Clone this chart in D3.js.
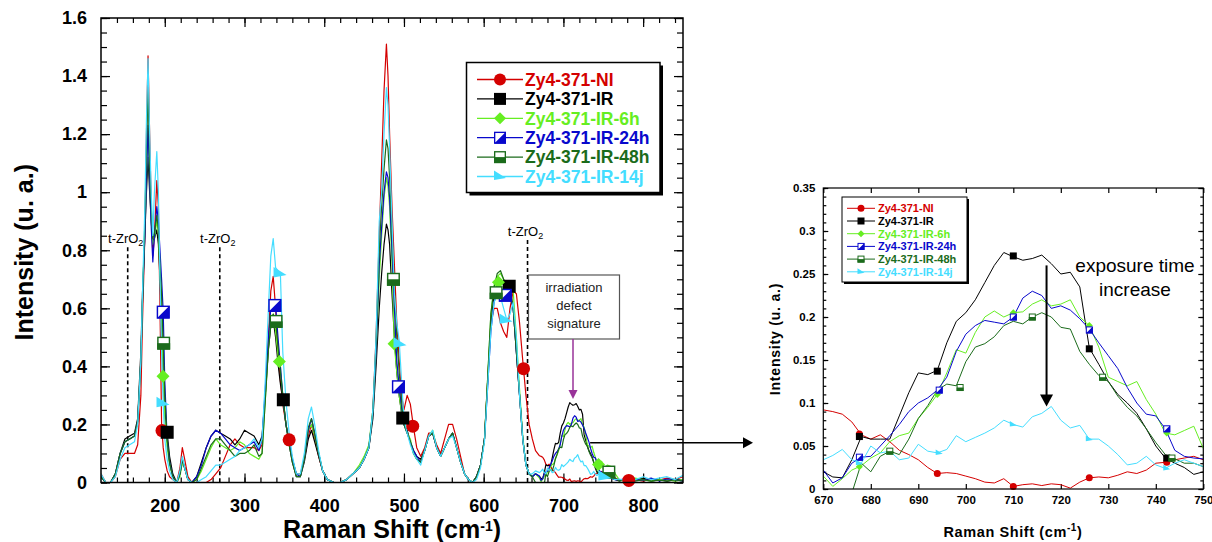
<!DOCTYPE html>
<html><head><meta charset="utf-8">
<script src="https://cdn.jsdelivr.net/npm/d3@7/dist/d3.min.js"></script>
<style>
html,body{margin:0;padding:0;background:#fff;}
svg{display:block;}
</style></head><body>
<svg id="chart" width="1212" height="542"></svg>
<script>
const FONT = "Arial, 'Liberation Sans', Helvetica, sans-serif";

const seriesNames = ["Zy4-371-NI","Zy4-371-IR","Zy4-371-IR-6h","Zy4-371-IR-24h","Zy4-371-IR-48h","Zy4-371-IR-14j"];
const seriesColors = ["#d40000","#000000","#66ee22","#0808cc","#1b6b1b","#44ddff"];
const seriesMarkers = ["circle","square","diamond","halfsq","botsq","tri"];

const xTickValues = [200,300,400,500,600,700,800];
const xTickLabels = ["200","300","400","500","600","700","800"];
const yTickValues = [0,0.2,0.4,0.6,0.8,1,1.2,1.4,1.6];
const yTickLabels = ["0","0.2","0.4","0.6","0.8","1","1.2","1.4","1.6"];
const insetXTickValues = [670,680,690,700,710,720,730,740,750];
const insetXTickLabels = ["670","680","690","700","710","720","730","740","750"];
const insetYTickValues = [0,0.05,0.1,0.15,0.2,0.25,0.3,0.35];
const insetYTickLabels = ["0","0.05","0.1","0.15","0.2","0.25","0.3","0.35"];

// Raman shift grid of main chart (outside the 670-750 window, which comes from the inset arrays)
const shiftMain = [
 120,126,132,138,144,150,156,162,166,170,
 172,175,177,179,181,183,185,187,190,192,
 194,196,198,200,203,206,210,215,219,222,
 225,229,234,240,246,252,258,264,270,276,
 282,288,294,300,306,312,318,322,326,330,
 333,336,339,342,345,348,352,356,360,365,
 370,375,380,384,388,393,398,404,412,420,
 428,436,444,450,456,461,465,469,472,475,
 478,480,482,485,488,491,494,497,500,504,
 508,512,516,521,526,531,536,541,546,551,
 556,561,566,571,576,581,586,591,596,601,
 605,609,613,617,621,625,629,633,637,641,
 645,649,653,657,661,665,
 755,760,765,770,775,780,790,800,810,820,830,840,850];

const mainNI = [
 0.03,0.0,0.0,0.02,0.08,0.1,0.1,0.1,0.13,0.3,
 0.55,0.85,1.2,1.47,1.2,0.95,0.78,0.85,1.04,0.95,
 0.6,0.2,0.12,0.08,0.04,0.02,0.01,0.0,0.05,0.12,
 0.08,0.02,0.0,0.0,0.0,0.0,0.01,0.03,0.05,0.09,
 0.13,0.15,0.13,0.12,0.12,0.12,0.11,0.13,0.3,0.5,
 0.66,0.71,0.6,0.45,0.35,0.27,0.2,0.147,0.08,0.03,
 0.03,0.08,0.16,0.2,0.15,0.09,0.04,0.01,0.0,0.0,
 0.01,0.03,0.05,0.08,0.12,0.25,0.5,0.85,1.1,1.35,
 1.51,1.4,1.2,0.95,0.75,0.55,0.42,0.3,0.25,0.3,
 0.27,0.19,0.12,0.09,0.12,0.17,0.17,0.13,0.1,0.15,
 0.2,0.2,0.15,0.09,0.03,0.01,0.0,0.02,0.06,0.15,
 0.35,0.55,0.6,0.6,0.55,0.52,0.5,0.6,0.66,0.65,
 0.55,0.42,0.3,0.2,0.15,0.11,
 0.03,0.02,0.015,0.01,0.008,0.007,0.01,0.005,0.012,0.008,0.015,0.01,0.02];

const mainIR = [
 0.02,0.0,0.0,0.03,0.1,0.15,0.16,0.17,0.22,0.45,
 0.65,0.85,1.0,1.12,1.0,0.9,0.83,0.84,0.87,0.82,
 0.7,0.55,0.36,0.25,0.17,0.09,0.03,0.0,0.03,0.07,
 0.05,0.01,0.0,0.02,0.07,0.12,0.16,0.18,0.17,0.16,
 0.15,0.13,0.15,0.18,0.17,0.16,0.13,0.16,0.3,0.46,
 0.54,0.56,0.5,0.41,0.34,0.29,0.2,0.13,0.07,0.02,
 0.02,0.07,0.15,0.18,0.14,0.09,0.04,0.01,0.0,0.0,
 0.01,0.03,0.05,0.08,0.12,0.22,0.4,0.6,0.72,0.82,
 0.89,0.87,0.82,0.65,0.5,0.38,0.3,0.24,0.2,0.18,
 0.14,0.11,0.09,0.08,0.11,0.16,0.17,0.12,0.09,0.12,
 0.15,0.17,0.12,0.07,0.03,0.01,0.0,0.02,0.06,0.15,
 0.35,0.55,0.65,0.68,0.7,0.68,0.68,0.67,0.6,0.45,
 0.3,0.15,0.06,0.03,0.02,0.03,
 0.02,0.015,0.01,0.005,0.01,0.005,0.01,0.015,0.005,0.01,0.005,0.01,0.008];

const mainIR6h = [
 0.02,0.0,0.0,0.03,0.1,0.14,0.15,0.16,0.21,0.42,
 0.62,0.88,1.05,1.22,1.05,0.9,0.82,0.84,0.9,0.86,
 0.72,0.58,0.37,0.22,0.12,0.06,0.02,0.0,0.02,0.07,
 0.05,0.01,0.0,0.01,0.04,0.08,0.12,0.15,0.13,0.12,
 0.11,0.12,0.14,0.13,0.1,0.09,0.08,0.1,0.28,0.47,
 0.56,0.58,0.52,0.44,0.4,0.3,0.2,0.14,0.08,0.03,
 0.02,0.08,0.18,0.2,0.16,0.1,0.04,0.01,0.0,0.0,
 0.01,0.03,0.06,0.09,0.13,0.25,0.45,0.7,0.85,0.98,
 1.05,1.02,0.95,0.75,0.47,0.38,0.3,0.24,0.2,0.17,
 0.15,0.1,0.08,0.07,0.11,0.16,0.18,0.12,0.09,0.12,
 0.15,0.17,0.12,0.07,0.03,0.01,0.0,0.02,0.06,0.15,
 0.36,0.58,0.68,0.71,0.72,0.7,0.68,0.68,0.66,0.5,
 0.32,0.16,0.06,0.03,0.02,0.03,
 0.06,0.055,0.03,0.01,0.005,0.01,0.015,0.01,0.005,0.01,0.01,0.005,0.01];

const mainIR24h = [
 0.02,0.0,0.0,0.03,0.1,0.14,0.15,0.16,0.21,0.42,
 0.62,0.85,1.05,1.23,1.05,0.88,0.76,0.85,0.95,0.9,
 0.8,0.7,0.59,0.35,0.15,0.07,0.02,0.0,0.03,0.08,
 0.05,0.01,0.0,0.02,0.06,0.12,0.16,0.18,0.17,0.15,
 0.13,0.12,0.11,0.12,0.13,0.14,0.11,0.15,0.32,0.5,
 0.6,0.62,0.61,0.5,0.4,0.3,0.2,0.14,0.08,0.03,
 0.02,0.08,0.18,0.22,0.17,0.1,0.04,0.01,0.0,0.0,
 0.01,0.03,0.05,0.08,0.12,0.24,0.45,0.75,0.88,1.0,
 1.07,1.05,0.98,0.8,0.6,0.42,0.33,0.26,0.2,0.17,
 0.14,0.11,0.09,0.07,0.11,0.16,0.17,0.12,0.09,0.12,
 0.15,0.17,0.12,0.07,0.03,0.01,0.0,0.02,0.06,0.15,
 0.33,0.52,0.62,0.66,0.66,0.64,0.645,0.64,0.6,0.45,
 0.3,0.15,0.06,0.03,0.02,0.03,
 0.025,0.015,0.01,0.008,0.012,0.005,0.01,0.008,0.015,0.005,0.012,0.01,0.005];

const mainIR48h = [
 0.02,0.0,0.0,0.03,0.1,0.14,0.15,0.16,0.21,0.42,
 0.62,0.9,1.15,1.35,1.1,0.95,0.84,0.86,0.92,0.87,
 0.75,0.65,0.48,0.3,0.15,0.07,0.02,0.0,0.03,0.08,
 0.05,0.01,0.0,0.01,0.05,0.09,0.13,0.15,0.15,0.13,
 0.11,0.09,0.1,0.1,0.11,0.13,0.09,0.1,0.28,0.46,
 0.54,0.58,0.555,0.47,0.38,0.3,0.2,0.13,0.07,0.02,
 0.02,0.08,0.19,0.22,0.17,0.1,0.04,0.01,0.0,0.0,
 0.01,0.03,0.05,0.08,0.12,0.24,0.48,0.8,0.95,1.08,
 1.18,1.15,1.05,0.85,0.66,0.5,0.38,0.28,0.2,0.17,
 0.14,0.1,0.08,0.07,0.11,0.16,0.17,0.12,0.09,0.12,
 0.15,0.17,0.12,0.07,0.03,0.01,0.0,0.02,0.06,0.15,
 0.36,0.58,0.67,0.72,0.73,0.7,0.68,0.66,0.6,0.45,
 0.3,0.15,0.06,0.03,0.02,0.0,
 0.036,0.03,0.015,0.005,0.008,0.005,0.005,0.01,0.005,0.008,0.005,0.01,0.005];

const mainIR14j = [
 0.03,0.0,0.0,0.02,0.08,0.12,0.13,0.14,0.2,0.42,
 0.65,0.95,1.25,1.46,1.2,1.0,0.85,1.0,1.14,1.0,
 0.7,0.45,0.27,0.15,0.08,0.04,0.01,0.0,0.04,0.09,
 0.05,0.01,0.0,0.0,0.01,0.02,0.04,0.06,0.06,0.07,
 0.08,0.09,0.11,0.12,0.13,0.15,0.12,0.15,0.35,0.6,
 0.78,0.84,0.74,0.73,0.72,0.45,0.28,0.17,0.09,0.03,
 0.03,0.1,0.22,0.26,0.2,0.11,0.04,0.01,0.0,0.0,
 0.01,0.03,0.05,0.08,0.12,0.25,0.5,0.9,1.0,1.2,
 1.36,1.3,1.15,0.9,0.65,0.55,0.49,0.35,0.22,0.17,
 0.13,0.1,0.08,0.06,0.11,0.16,0.18,0.12,0.09,0.12,
 0.15,0.16,0.12,0.07,0.03,0.01,0.0,0.01,0.05,0.14,
 0.33,0.52,0.62,0.65,0.64,0.6,0.56,0.58,0.62,0.5,
 0.3,0.15,0.06,0.03,0.03,0.04,
 0.02,0.015,0.01,0.012,0.008,0.015,0.01,0.02,0.01,0.015,0.02,0.01,0.025];

// Inset window 670-750 cm-1
const shiftInset = [670,672,674,676,678,680,682,684,686,688,690,692,694,696,698,700,702,704,706,708,710,
 712,714,716,718,720,722,724,726,728,730,732,734,736,738,740,742,744,746,748,750];

const insetNI = [0.092,0.09,0.087,0.078,0.063,0.058,0.063,0.055,0.045,0.04,0.034,0.025,0.018,0.019,0.018,0.015,0.012,0.008,0.007,0.012,0.003,
 0.005,0.006,0.004,0.006,0.005,0.001,0.008,0.013,0.014,0.013,0.016,0.02,0.018,0.022,0.03,0.031,0.034,0.036,0.038,0.034];
const insetIR = [0.02,0.014,0.013,0.034,0.061,0.058,0.058,0.058,0.085,0.112,0.135,0.133,0.138,0.17,0.195,0.205,0.22,0.24,0.26,0.275,0.27,
 0.266,0.268,0.272,0.262,0.25,0.252,0.235,0.164,0.145,0.125,0.11,0.1,0.088,0.07,0.05,0.036,0.03,0.025,0.017,0.02];
const insetIR6h = [0.015,0.003,0.012,0.022,0.027,0.036,0.042,0.055,0.062,0.065,0.082,0.095,0.11,0.135,0.162,0.158,0.182,0.2,0.207,0.2,0.205,
 0.206,0.215,0.22,0.213,0.215,0.22,0.2,0.19,0.165,0.13,0.125,0.12,0.125,0.104,0.087,0.065,0.063,0.068,0.073,0.047];
const insetIR24h = [0.022,0.007,0.013,0.03,0.037,0.038,0.05,0.062,0.075,0.09,0.1,0.106,0.115,0.13,0.16,0.18,0.19,0.196,0.194,0.192,0.2,
 0.222,0.23,0.225,0.21,0.213,0.208,0.198,0.186,0.17,0.155,0.14,0.118,0.1,0.087,0.085,0.07,0.045,0.038,0.036,0.035];
const insetIR48h = [-0.02,-0.02,-0.015,-0.005,0.03,0.02,0.038,0.044,0.04,0.058,0.082,0.097,0.115,0.122,0.12,0.148,0.165,0.169,0.177,0.19,0.195,
 0.192,0.2,0.205,0.2,0.188,0.186,0.16,0.145,0.132,0.125,0.108,0.095,0.085,0.07,0.054,0.04,0.035,0.03,0.03,0.026];
const insetIR14j = [0.034,0.039,0.046,0.034,0.03,0.05,0.042,0.044,0.034,0.036,0.052,0.044,0.042,0.046,0.062,0.055,0.06,0.065,0.071,0.08,0.075,
 0.072,0.084,0.088,0.096,0.08,0.071,0.074,0.058,0.058,0.05,0.04,0.028,0.03,0.038,0.028,0.024,0.03,0.034,0.03,0.026];

// marker positions [shift, intensity]
const markMainNI = [[196.5,0.179],[356,0.147],[511,0.194],[650,0.392],[782,0.007]];
const markMainIR = [[203,0.173],[348.7,0.285],[498.5,0.222],[632,0.676]];
const markMainIR6h = [[197.8,0.366],[343.7,0.417],[487.6,0.478],[618.5,0.69],[744,0.062]];
const markMainIR24h = [[198,0.587],[338,0.61],[493,0.33],[627,0.645]];
const markMainIR48h = [[198.6,0.48],[339.6,0.555],[486.8,0.70],[615.6,0.654],[757,0.036]];
const markMainIR14j = [[197.8,0.273],[344.6,0.72],[495,0.478],[628,0.56],[752,0.02]];

const markInsetNI = [[677.6,0.064],[694,0.018],[710,0.003],[726,0.013],[742.3,0.031]];
const markInsetIR = [[677.6,0.061],[694,0.137],[710,0.271],[726,0.163],[742.3,0.036]];
const markInsetIR6h = [[677.6,0.026],[694,0.11],[710,0.205],[726,0.19],[742.3,0.065]];
const markInsetIR24h = [[677.6,0.037],[694.4,0.115],[710,0.2],[726,0.185],[742.3,0.07]];
const markInsetIR48h = [[684,0.044],[698.8,0.118],[714,0.2],[728.8,0.13],[743.4,0.036]];
const markInsetIR14j = [[677.6,0.03],[694.4,0.042],[710,0.075],[726,0.058],[742.3,0.024]];

const mainVals = [mainNI,mainIR,mainIR6h,mainIR24h,mainIR48h,mainIR14j];
const insetVals = [insetNI,insetIR,insetIR6h,insetIR24h,insetIR48h,insetIR14j];
const mainMarks = [markMainNI,markMainIR,markMainIR6h,markMainIR24h,markMainIR48h,markMainIR14j];
const insetMarks = [markInsetNI,markInsetIR,markInsetIR6h,markInsetIR24h,markInsetIR48h,markInsetIR14j];

const svg = d3.select("#chart");
const defs = svg.append("defs");

function drawMarker(g, kind, cx, cy, s, color){
  const h = s/2;
  if(kind==="circle"){
    g.append("circle").attr("cx",cx).attr("cy",cy).attr("r",h).attr("fill",color);
  } else if(kind==="square"){
    g.append("rect").attr("x",cx-h).attr("y",cy-h).attr("width",s).attr("height",s).attr("fill",color);
  } else if(kind==="diamond"){
    g.append("path").attr("d",`M${cx},${cy-h}L${cx+h},${cy}L${cx},${cy+h}L${cx-h},${cy}Z`).attr("fill",color);
  } else if(kind==="halfsq"){
    const sw = Math.max(1, s/9);
    g.append("rect").attr("x",cx-h+sw/2).attr("y",cy-h+sw/2).attr("width",s-sw).attr("height",s-sw).attr("fill","#fff").attr("stroke",color).attr("stroke-width",sw);
    g.append("path").attr("d",`M${cx+h},${cy-h}L${cx+h},${cy+h}L${cx-h},${cy+h}Z`).attr("fill",color);
  } else if(kind==="botsq"){
    const sw = Math.max(1, s/9);
    g.append("rect").attr("x",cx-h+sw/2).attr("y",cy-h+sw/2).attr("width",s-sw).attr("height",s-sw).attr("fill","#fff").attr("stroke",color).attr("stroke-width",sw);
    g.append("rect").attr("x",cx-h).attr("y",cy).attr("width",s).attr("height",h).attr("fill",color);
  } else if(kind==="tri"){
    g.append("path").attr("d",`M${cx-h},${cy-h}L${cx+h},${cy+h*0.25}L${cx-h},${cy+h*0.6}Z`).attr("fill",color);
  }
}

function styleAxis(g, fs){
  g.attr("font-family", FONT);
  g.select(".domain").remove();
  g.selectAll(".tick line").attr("stroke","#000").attr("stroke-width",1.2);
  g.selectAll(".tick text").attr("font-size",fs).attr("font-weight","bold").attr("fill","#000");
}

/* ================= MAIN CHART ================= */
const mx = d3.scaleLinear().domain([120,850]).range([101,683]);
const my = d3.scaleLinear().domain([0,1.6]).range([482.5,18]);

defs.append("clipPath").attr("id","clipMain").append("rect")
  .attr("x",mx(120)).attr("y",my(1.6)).attr("width",mx(850)-mx(120)).attr("height",my(0)-my(1.6));

const gm = svg.append("g");
const xMinor = d3.range(140,850,20);
const yMinor = d3.range(0,33).map(i=>i*0.05);

gm.append("g").attr("transform",`translate(0,${my(0)})`)
  .call(d3.axisBottom(mx).tickValues(xMinor).tickSize(-5).tickFormat("")).call(g=>styleAxis(g,18));
gm.append("g").attr("transform",`translate(0,${my(0)})`)
  .call(d3.axisBottom(mx).tickValues(xTickValues).tickSize(-9).tickPadding(17).tickFormat((d,i)=>xTickLabels[i])).call(g=>styleAxis(g,18));
gm.append("g").attr("transform",`translate(0,${my(1.6)})`)
  .call(d3.axisTop(mx).tickValues(xMinor).tickSize(-5).tickFormat("")).call(g=>styleAxis(g,18));
gm.append("g").attr("transform",`translate(0,${my(1.6)})`)
  .call(d3.axisTop(mx).tickValues(xTickValues).tickSize(-9).tickFormat("")).call(g=>styleAxis(g,18));
gm.append("g").attr("transform",`translate(${mx(120)},0)`)
  .call(d3.axisLeft(my).tickValues(yMinor).tickSize(-6).tickFormat("")).call(g=>styleAxis(g,18));
gm.append("g").attr("transform",`translate(${mx(120)},0)`)
  .call(d3.axisLeft(my).tickValues(yTickValues).tickSize(-9).tickPadding(14).tickFormat((d,i)=>yTickLabels[i])).call(g=>styleAxis(g,18));
gm.append("g").attr("transform",`translate(${mx(850)},0)`)
  .call(d3.axisRight(my).tickValues(yMinor).tickSize(-6).tickFormat("")).call(g=>styleAxis(g,18));
gm.append("g").attr("transform",`translate(${mx(850)},0)`)
  .call(d3.axisRight(my).tickValues(yTickValues).tickSize(-9).tickFormat("")).call(g=>styleAxis(g,18));

// t-ZrO2 dashed lines
const tZrO2Shift = [153.5, 269, 655];
const tZrO2Top = [0.81, 0.81, 0.835];
tZrO2Shift.forEach((s,i)=>{
  gm.append("line").attr("x1",mx(s)).attr("x2",mx(s)).attr("y1",my(tZrO2Top[i])).attr("y2",my(0))
    .attr("stroke","#000").attr("stroke-width",1.6).attr("stroke-dasharray","4,3");
  const t = gm.append("text").attr("x",mx(s)-2).attr("y",my(tZrO2Top[i])-4).attr("text-anchor","middle")
    .attr("font-family",FONT).attr("font-size",13).attr("fill","#000");
  t.append("tspan").text("t-ZrO");
  t.append("tspan").attr("font-size",9).attr("dy",3).text("2");
});

// series lines (main)
const lineMain = d3.line().x(d=>mx(d[0])).y(d=>my(d[1]));
const gLinesMain = gm.append("g").attr("clip-path","url(#clipMain)");
mainVals.forEach((vals,k)=>{
  const pts = shiftMain.map((s,i)=>[s,vals[i]])
    .concat(shiftInset.map((s,i)=>[s,insetVals[k][i]]))
    .sort((a,b)=>a[0]-b[0]);
  gLinesMain.append("path").datum(pts).attr("d",lineMain).attr("fill","none")
    .attr("stroke",seriesColors[k]).attr("stroke-width",1.2).attr("stroke-linejoin","round");
});
const gMarkMain = gm.append("g");
mainMarks.forEach((arr,k)=>{
  arr.forEach(d=>drawMarker(gMarkMain, seriesMarkers[k], mx(d[0]), my(d[1]), 13, seriesColors[k]));
});

// frame
gm.append("rect").attr("x",mx(120)).attr("y",my(1.6)).attr("width",mx(850)-mx(120)).attr("height",my(0)-my(1.6))
  .attr("fill","none").attr("stroke","#000").attr("stroke-width",1.5);

// axis titles
gm.append("text").attr("transform",`translate(33,${(my(0)+my(1.6))/2+2}) rotate(-90)`).attr("text-anchor","middle")
  .attr("font-family",FONT).attr("font-size",25).attr("font-weight","bold").text("Intensity (u. a.)");
const xt = gm.append("text").attr("x",392).attr("y",538).attr("text-anchor","middle")
  .attr("font-family",FONT).attr("font-size",25).attr("font-weight","bold");
xt.append("tspan").text("Raman Shift (cm");
xt.append("tspan").attr("font-size",14).attr("dy",-7).text("-1");
xt.append("tspan").attr("dy",7).text(")");

// irradiation defect signature box
const boxG = gm.append("g").attr("font-family",FONT);
boxG.append("rect").attr("x",528.5).attr("y",275).attr("width",91).attr("height",64).attr("fill","#fff").attr("stroke","#555").attr("stroke-width",1.2);
["irradiation","defect","signature"].forEach((s,i)=>{
  boxG.append("text").attr("x",574).attr("y",292+i*18).attr("text-anchor","middle").attr("font-size",13).attr("fill","#222").text(s);
});
boxG.append("line").attr("x1",573).attr("x2",573).attr("y1",339).attr("y2",392).attr("stroke","#993399").attr("stroke-width",1.5);
boxG.append("path").attr("d","M573,399L568.5,390L577.5,390Z").attr("fill","#993399");

// connector arrow to inset
gm.append("line").attr("x1",mx(733.5)).attr("x2",745).attr("y1",my(0.137)).attr("y2",my(0.137)).attr("stroke","#000").attr("stroke-width",1.5);
gm.append("path").attr("d",`M753,${my(0.137)}L743,${my(0.137)-5.5}L743,${my(0.137)+5.5}Z`).attr("fill","#000");

// main legend
const lg = gm.append("g").attr("font-family",FONT);
lg.append("rect").attr("x",469.5).attr("y",65.5).attr("width",193.5).attr("height",130).attr("fill","#000");
lg.append("rect").attr("x",466.5).attr("y",62.5).attr("width",193.5).attr("height",130).attr("fill","#fff").attr("stroke","#000").attr("stroke-width",1.5);
seriesNames.forEach((n,k)=>{
  const cy = 79.5 + k*19.4;
  lg.append("line").attr("x1",477).attr("x2",523).attr("y1",cy).attr("y2",cy).attr("stroke",seriesColors[k]).attr("stroke-width",1.3);
  drawMarker(lg, seriesMarkers[k], 500, cy, 12, seriesColors[k]);
  lg.append("text").attr("x",525).attr("y",cy+6.3).attr("font-size",17.5).attr("font-weight","bold").attr("fill",seriesColors[k]).text(n);
});

/* ================= INSET ================= */
const ix = d3.scaleLinear().domain([670,750]).range([823.3,1203.3]);
const iy = d3.scaleLinear().domain([0,0.35]).range([489,188]);
defs.append("clipPath").attr("id","clipInset").append("rect")
  .attr("x",ix(670)).attr("y",iy(0.35)).attr("width",ix(750)-ix(670)).attr("height",iy(0)-iy(0.35));
const gi = svg.append("g");
const iyMinor = d3.range(0,36).map(i=>i*0.01);

gi.append("g").attr("transform",`translate(0,${iy(0)})`)
  .call(d3.axisBottom(ix).tickValues(insetXTickValues).tickSize(-5).tickPadding(7).tickFormat((d,i)=>insetXTickLabels[i])).call(g=>styleAxis(g,11.5));
gi.append("g").attr("transform",`translate(0,${iy(0.35)})`)
  .call(d3.axisTop(ix).tickValues(insetXTickValues).tickSize(-5).tickFormat("")).call(g=>styleAxis(g,11.5));
gi.append("g").attr("transform",`translate(${ix(670)},0)`)
  .call(d3.axisLeft(iy).tickValues(iyMinor).tickSize(-3).tickFormat("")).call(g=>styleAxis(g,11.5));
gi.append("g").attr("transform",`translate(${ix(670)},0)`)
  .call(d3.axisLeft(iy).tickValues(insetYTickValues).tickSize(-5).tickPadding(8).tickFormat((d,i)=>insetYTickLabels[i])).call(g=>styleAxis(g,11.5));
gi.append("g").attr("transform",`translate(${ix(750)},0)`)
  .call(d3.axisRight(iy).tickValues(iyMinor).tickSize(-3).tickFormat("")).call(g=>styleAxis(g,11.5));
gi.append("g").attr("transform",`translate(${ix(750)},0)`)
  .call(d3.axisRight(iy).tickValues(insetYTickValues).tickSize(-5).tickFormat("")).call(g=>styleAxis(g,11.5));

const lineInset = d3.line().x(d=>ix(d[0])).y(d=>iy(d[1]));
const gLinesInset = gi.append("g").attr("clip-path","url(#clipInset)");
insetVals.forEach((vals,k)=>{
  gLinesInset.append("path").datum(shiftInset.map((s,i)=>[s,vals[i]])).attr("d",lineInset).attr("fill","none")
    .attr("stroke",seriesColors[k]).attr("stroke-width",1).attr("stroke-linejoin","round");
});
const gMarkInset = gi.append("g");
insetMarks.forEach((arr,k)=>{
  arr.forEach(d=>drawMarker(gMarkInset, seriesMarkers[k], ix(d[0]), iy(d[1]), 7, seriesColors[k]));
});

gi.append("rect").attr("x",ix(670)).attr("y",iy(0.35)).attr("width",ix(750)-ix(670)).attr("height",iy(0)-iy(0.35))
  .attr("fill","none").attr("stroke","#000").attr("stroke-width",1.2);

// inset legend
const il = gi.append("g").attr("font-family",FONT);
il.append("rect").attr("x",844).attr("y",199).attr("width",125).attr("height",85).attr("fill","#000");
il.append("rect").attr("x",842).attr("y",197).attr("width",125).attr("height",85).attr("fill","#fff").attr("stroke","#000").attr("stroke-width",1);
seriesNames.forEach((n,k)=>{
  const cy = 208.3 + k*12.7;
  il.append("line").attr("x1",847).attr("x2",875).attr("y1",cy).attr("y2",cy).attr("stroke",seriesColors[k]).attr("stroke-width",1);
  drawMarker(il, seriesMarkers[k], 861, cy, 7, seriesColors[k]);
  il.append("text").attr("x",878).attr("y",cy+4).attr("font-size",11).attr("font-weight","bold").attr("fill",seriesColors[k]).text(n);
});

// exposure arrow + text
gi.append("line").attr("x1",ix(717)).attr("x2",ix(717)).attr("y1",iy(0.26)).attr("y2",iy(0.107)).attr("stroke","#000").attr("stroke-width",2);
gi.append("path").attr("d",`M${ix(717)},${iy(0.096)}L${ix(717)-6.5},${iy(0.11)}L${ix(717)+6.5},${iy(0.11)}Z`).attr("fill","#000");
gi.append("text").attr("x",1135).attr("y",272).attr("text-anchor","middle").attr("font-family",FONT).attr("font-size",19).text("exposure time");
gi.append("text").attr("x",1135).attr("y",296).attr("text-anchor","middle").attr("font-family",FONT).attr("font-size",19).text("increase");

// inset axis titles
gi.append("text").attr("transform",`translate(780,339) rotate(-90)`).attr("text-anchor","middle")
  .attr("font-family",FONT).attr("font-size",14).attr("font-weight","bold").attr("letter-spacing",0.8).text("Intensity (u. a.)");
const it = gi.append("text").attr("x",1013).attr("y",536.5).attr("text-anchor","middle")
  .attr("font-family",FONT).attr("font-size",14.5).attr("font-weight","bold").attr("letter-spacing",0.6);
it.append("tspan").text("Raman Shift (cm");
it.append("tspan").attr("font-size",10).attr("dy",-6).text("-1");
it.append("tspan").attr("dy",6).text(")");
</script>
</body></html>
